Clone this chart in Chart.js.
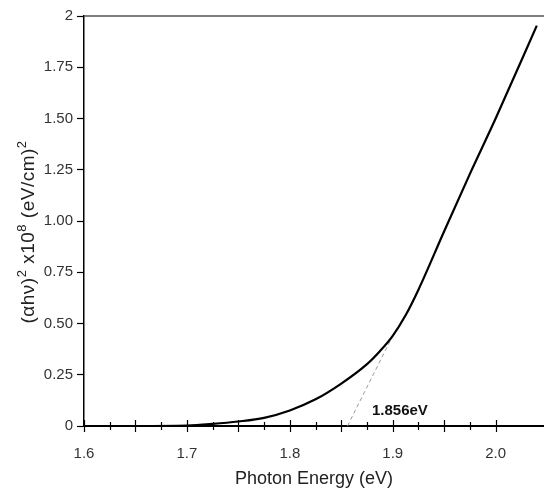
<!DOCTYPE html>
<html>
<head>
<meta charset="utf-8">
<script src="https://cdn.jsdelivr.net/npm/chart.js@4.4.1/dist/chart.umd.min.js"></script>
<style>
  html, body { margin: 0; padding: 0; background: #fff; }
  #wrap { width: 544px; height: 490px; }
</style>
</head>
<body>
<div id="wrap"><canvas id="tauc"></canvas></div>
<script>
// Start Data
const energy = [1.6, 1.65, 1.7, 1.725, 1.75, 1.775, 1.8, 1.825, 1.85, 1.875, 1.8875, 1.9, 1.9125, 1.925, 1.95, 1.975, 2.0, 2.04];
const absorb = [0, 0, 0.002, 0.01, 0.022, 0.04, 0.076, 0.13, 0.207, 0.302, 0.365, 0.44, 0.54, 0.665, 0.95, 1.23, 1.5, 1.953];

const fitEnergy = [1.856, 1.899];
const fitAbsorb = [0, 0.43];

const yTicks = [0, 0.25, 0.5, 0.75, 1, 1.25, 1.5, 1.75, 2];
const xLabels = [1.6, 1.7, 1.8, 1.9, 2.0];

const gapLabel = '1.856eV';
const gapAt = [1.907, 0.073];
// End Data

function pts(xs, ys) {
  return xs.map(function(x, i){ return {x: x, y: ys[i]}; });
}

// Start plugin: crossing x ticks, top frame, y title, gap label
const extras = {
  id: 'extras',
  afterDraw(chart) {
    const c = chart.ctx;
    const xs = chart.scales.x;
    const ys = chart.scales.y;
    const a = chart.chartArea;

    c.save();
    // top frame line
    c.strokeStyle = '#555';
    c.lineWidth = 1.5;
    c.beginPath();
    c.moveTo(a.left, a.top);
    c.lineTo(a.right, a.top);
    c.stroke();

    // x ticks crossing the axis
    c.strokeStyle = '#000';
    c.lineWidth = 1.2;
    xs.ticks.forEach(function(t){
      const n = Math.round(t.value * 1000);
      const h = (n % 50 === 0) ? 6 : 4;
      const px = Math.round(xs.getPixelForValue(t.value)) + 0.5;
      c.beginPath();
      c.moveTo(px, a.bottom - h);
      c.lineTo(px, a.bottom + h);
      c.stroke();
    });

    // gap label
    c.fillStyle = '#111';
    c.font = 'bold 15px "Liberation Sans", Arial, sans-serif';
    c.textAlign = 'center';
    c.textBaseline = 'middle';
    c.fillText(gapLabel, xs.getPixelForValue(gapAt[0]), ys.getPixelForValue(gapAt[1]));

    // y title with superscripts
    const parts = [['(\u03b1h\u03bd)', 0], ['2', 1], [' x10', 0], ['8', 1], [' (eV/cm)', 0], ['2', 1]];
    const big = '19px "Liberation Sans", Arial, sans-serif';
    const small = '13px "Liberation Sans", Arial, sans-serif';
    c.letterSpacing = '0.5px';
    let w = 0;
    parts.forEach(function(p){ c.font = p[1] ? small : big; w += c.measureText(p[0]).width; });
    c.translate(29, 232);
    c.rotate(-Math.PI / 2);
    c.textAlign = 'left';
    c.textBaseline = 'middle';
    c.fillStyle = '#222';
    let cx = -w / 2;
    parts.forEach(function(p){
      c.font = p[1] ? small : big;
      c.fillText(p[0], cx, p[1] ? -7 : 0);
      cx += c.measureText(p[0]).width;
    });
    c.restore();
  }
};
// End plugin

new Chart(document.getElementById('tauc'), {
  type: 'scatter',
  data: {
    datasets: [{
      data: pts(energy, absorb),
      showLine: true,
      borderColor: '#000',
      borderWidth: 2.2,
      pointRadius: 0,
      cubicInterpolationMode: 'monotone'
    }, {
      data: pts(fitEnergy, fitAbsorb),
      showLine: true,
      borderColor: '#999',
      borderWidth: 1,
      borderDash: [4, 3],
      pointRadius: 0
    }]
  },
  plugins: [extras],
  options: {
    responsive: true,
    maintainAspectRatio: false,
    animation: false,
    layout: { padding: { top: 16, right: 0, left: 0, bottom: 0 } },
    plugins: { legend: { display: false }, tooltip: { enabled: false } },
    scales: {
      x: {
        type: 'linear',
        min: 1.6,
        max: 2.047,
        afterFit: function(s){ s.height = 64; },
        afterBuildTicks: function(s){
          s.ticks = s.ticks.filter(function(t){
            const q = t.value / 0.025;
            return Math.abs(q - Math.round(q)) < 1e-6;
          });
        },
        ticks: {
          stepSize: 0.025,
          autoSkip: false,
          maxRotation: 0,
          padding: 19,
          color: '#333',
          font: { family: '"Liberation Sans", Arial, sans-serif', size: 15 },
          callback: function(v){
            const hit = xLabels.find(function(l){ return Math.abs(l - v) < 1e-6; });
            return hit === undefined ? '' : hit.toFixed(1);
          }
        },
        grid: { display: true, drawOnChartArea: false, drawTicks: false },
        border: { display: true, color: '#000', width: 2 },
        title: {
          display: true,
          text: 'Photon Energy (eV)',
          color: '#222',
          padding: { top: 1, bottom: 0 },
          font: { family: '"Liberation Sans", Arial, sans-serif', size: 18 }
        }
      },
      y: {
        min: 0,
        max: 2,
        afterFit: function(s){ s.width = 84; },
        afterBuildTicks: function(s){
          s.ticks = yTicks.map(function(v){ return {value: v}; });
        },
        ticks: {
          padding: 4,
          color: '#333',
          font: { family: '"Liberation Sans", Arial, sans-serif', size: 15 },
          callback: function(v){
            return (v === 0 || v === 2) ? String(v) : v.toFixed(2);
          }
        },
        grid: { display: true, drawOnChartArea: false, drawTicks: true, tickLength: 7, tickColor: '#000', tickWidth: 1.2 },
        border: { display: true, color: '#000', width: 1.5 }
      }
    }
  }
});
</script>
</body>
</html>
